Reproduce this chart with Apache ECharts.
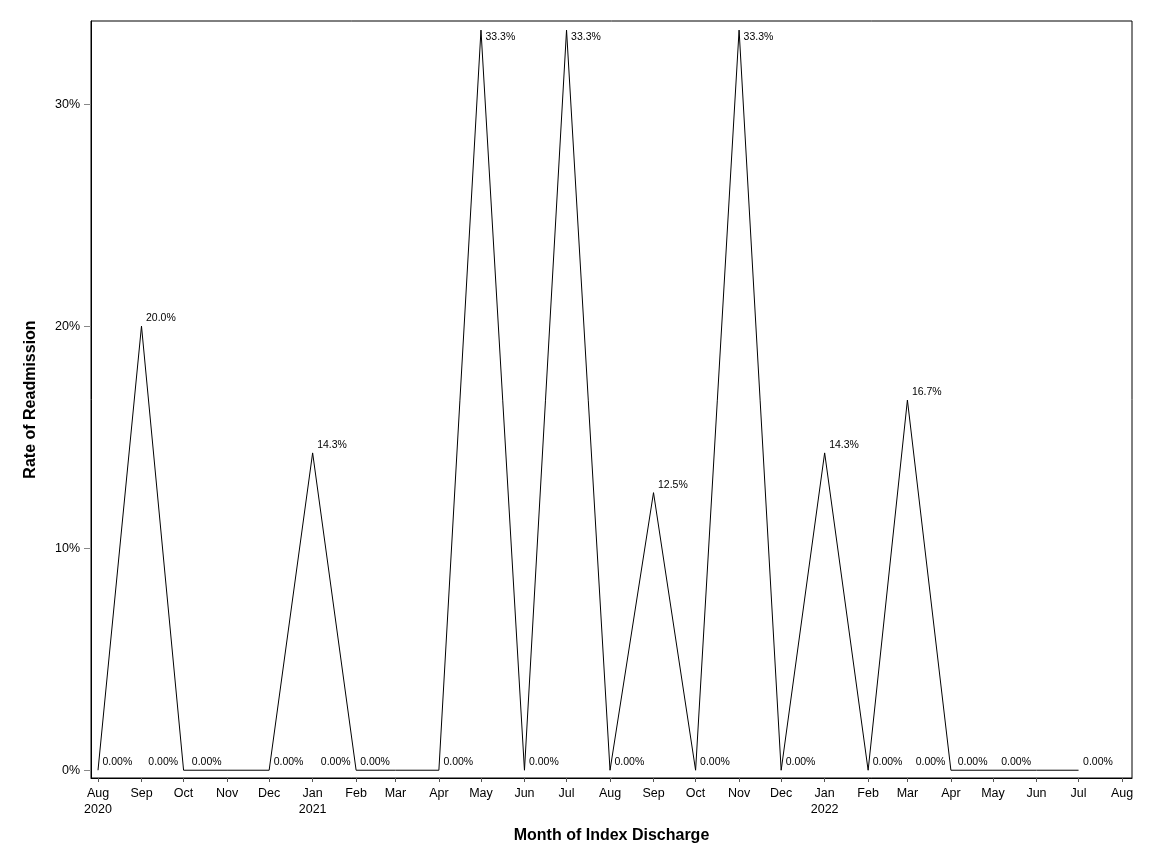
<!DOCTYPE html>
<html lang="en" style="height: 100%">
<head>
  <meta charset="utf-8">
</head>
<body style="height: 100%; margin: 0">
  <div id="container" style="width: 1152px; height: 864px"></div>

  <script type="text/javascript" src="https://fastly.jsdelivr.net/npm/echarts@6.0.0/dist/echarts.min.js"></script>

  <script type="text/javascript">
    // monthly readmission rate (%), by month of index discharge
    var months = ['2020-08', '2020-09', '2020-10', '2020-11', '2020-12', '2021-01',
      '2021-02', '2021-03', '2021-04', '2021-05', '2021-06', '2021-07',
      '2021-08', '2021-09', '2021-10', '2021-11', '2021-12', '2022-01',
      '2022-02', '2022-03', '2022-04', '2022-05', '2022-06', '2022-07'];
    var rates = [0, 20.0, 0, 0, 0, 14.29,
      0, 0, 0, 33.33, 0, 33.33,
      0, 12.5, 0, 33.33, 0, 14.29,
      0, 16.67, 0, 0, 0, 0];

    // x tick marks and their labels
    var tickMonths = ['2020-08', '2020-09', '2020-10', '2020-11', '2020-12', '2021-01',
      '2021-02', '2021-03', '2021-04', '2021-05', '2021-06', '2021-07',
      '2021-08', '2021-09', '2021-10', '2021-11', '2021-12', '2022-01',
      '2022-02', '2022-03', '2022-04', '2022-05', '2022-06', '2022-07', '2022-08'];
    var tickLabels = ['Aug\n2020', 'Sep', 'Oct', 'Nov', 'Dec', 'Jan\n2021',
      'Feb', 'Mar', 'Apr', 'May', 'Jun', 'Jul',
      'Aug', 'Sep', 'Oct', 'Nov', 'Dec', 'Jan\n2022',
      'Feb', 'Mar', 'Apr', 'May', 'Jun', 'Jul', 'Aug'];
    var yTicks = [0, 10, 20, 30];
    var yTickLabels = ['0%', '10%', '20%', '30%'];

    // points whose label sits on the left (collision avoidance)
    var leftLabelIdx = [2, 3, 6, 7, 20, 21, 22];

    // x is measured in days since 1970 so that month lengths are kept
    var DAY = 86400000;
    function toDay(m) {
      var p = m.split('-');
      return Date.UTC(+p[0], +p[1] - 1, 1) / DAY;
    }

    var yMin = -0.35, yMax = 33.74;
    var font = 'Liberation Sans, Arial, sans-serif';

    var tickDays = tickMonths.map(toDay);
    var labelOf = {};
    tickDays.forEach(function (t, i) { labelOf[t] = tickLabels[i]; });

    // label placement relative to the (1px) point: upper right / upper left,
    // pushed below the point when it would run past the top of the frame
    var seriesData = months.map(function (m, i) {
      var v = rates[i];
      var onLeft = leftLabelIdx.indexOf(i) >= 0;
      var dy = v > yMax - 0.63 ? 7.5 : -7.5;
      return {
        value: [toDay(m), v],
        label: {
          show: true,
          position: onLeft ? [-5, dy] : [5, dy],
          align: onLeft ? 'right' : 'left',
          verticalAlign: 'middle'
        }
      };
    });

    var dom = document.getElementById('container');
    var myChart = echarts.init(dom, null, { renderer: 'canvas' });

    var option = {
      animation: false,
      backgroundColor: '#fff',
      grid: {
        left: 91, right: 20, top: 21, bottom: 86,
        show: true, borderColor: '#000', borderWidth: 1
      },
      xAxis: {
        type: 'value',
        min: toDay('2020-08') - 5,
        max: toDay('2022-08') + 7.1,
        name: 'Month of Index Discharge',
        nameLocation: 'middle',
        nameGap: 50,
        nameTextStyle: { fontFamily: font, fontSize: 16, fontWeight: 'bold', color: '#000' },
        axisLine: { show: true, onZero: false, lineStyle: { color: '#000', width: 1 } },
        axisTick: { show: true, customValues: tickDays, length: 4, lineStyle: { color: '#555' } },
        axisLabel: {
          customValues: tickDays,
          margin: 8,
          fontFamily: font, fontSize: 12.5, color: '#000', lineHeight: 16,
          formatter: function (val) { return labelOf[val] || ''; }
        },
        splitLine: { show: false }
      },
      yAxis: {
        type: 'value',
        min: yMin,
        max: yMax,
        name: 'Rate of Readmission',
        nameLocation: 'middle',
        nameGap: 52,
        nameTextStyle: { fontFamily: font, fontSize: 16, fontWeight: 'bold', color: '#000' },
        axisLine: { show: true, onZero: false, lineStyle: { color: '#000', width: 1 } },
        axisTick: { show: true, customValues: yTicks, length: 7, lineStyle: { color: '#888' } },
        axisLabel: {
          customValues: yTicks,
          margin: 11,
          fontFamily: font, fontSize: 12.5, color: '#000',
          formatter: function (val) { return yTickLabels[yTicks.indexOf(val)] || ''; }
        },
        splitLine: { show: false }
      },
      series: [
        {
          type: 'line',
          data: seriesData,
          symbol: 'circle',
          symbolSize: 1,
          showSymbol: true,
          itemStyle: { color: 'rgba(0,0,0,0)' },
          lineStyle: { color: '#000', width: 1 },
          label: {
            show: true,
            fontFamily: font,
            fontSize: 10.5,
            color: '#000',
            formatter: function (p) {
              var v = p.value[1];
              return v === 0 ? '0.00%' : v.toFixed(1) + '%';
            }
          },
          labelLayout: { hideOverlap: false }
        }
      ]
    };

    myChart.setOption(option);
    window.addEventListener('resize', myChart.resize);
  </script>
</body>
</html>
